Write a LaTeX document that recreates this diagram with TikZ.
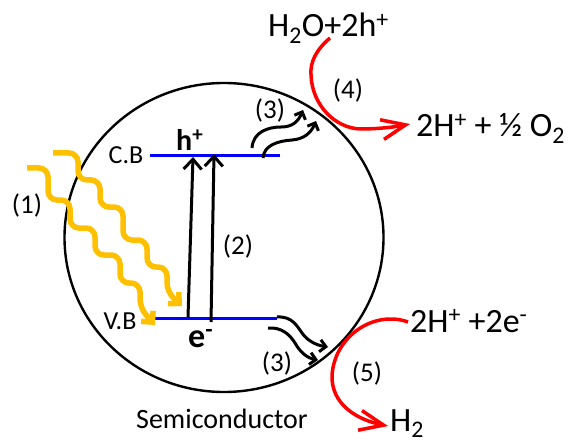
\documentclass[tikz,border=0pt]{standalone}
\usepackage{fontspec}
\setmainfont{Carlito}
\usetikzlibrary{arrows.meta}
\definecolor{photon}{RGB}{255,192,0}
\definecolor{bandblue}{RGB}{0,0,255}
\definecolor{rxred}{RGB}{255,0,0}
\begin{document}
\begin{tikzpicture}[x=1pt,y=-1pt,
  lbl/.style={font=\fontsize{27}{30}\selectfont, inner sep=0pt},
  small/.style={font=\fontsize{26}{30}\selectfont, inner sep=0pt},
  big/.style={font=\fontsize{34}{40}\selectfont, inner sep=0pt, anchor=base west},
  band/.style={draw=bandblue, line width=3pt},
  excite/.style={draw=black, line width=3pt, -{Straight Barb[length=10pt,width=18pt]}},
  transfer/.style={draw=black, line width=3pt, -{Straight Barb[length=6pt,width=12pt]}},
  photonline/.style={draw=photon, line width=5.5pt, rounded corners=9pt, -{Straight Barb[length=8pt,width=16pt]}},
  reaction/.style={draw=rxred, line width=3.5pt, -{Straight Barb[length=24pt,width=20pt]}},
]
\useasboundingbox (0,0) rectangle (577,446);

% semiconductor particle
\draw[line width=2.4pt] (224,237.5) ellipse [x radius=159.5, y radius=154.5];
\node[font=\fontsize{28}{32}\selectfont, anchor=base west, inner sep=0pt] (semi) at (136,428) {Semiconductor};

% bands
\coordinate (cbL) at (150,156); \coordinate (cbR) at (280,156);
\coordinate (vbL) at (155,318); \coordinate (vbR) at (277,318);
\draw[band] (cbL) -- (cbR);
\draw[band] (vbL) -- (vbR);
\node[small] (cb) at (126,155) {C.B};
\node[small] (vb) at (120,321) {V.B};
\node[font=\bfseries\fontsize{30}{34}\selectfont, anchor=base west, inner sep=0pt] (hp) at (176,151) {h\textsuperscript{+}};
\node[font=\bfseries\fontsize{34}{38}\selectfont, anchor=base west, inner sep=0pt] (em) at (188,347) {e\textsuperscript{-}};

% excitation arrows
\coordinate (a1s) at (188,317); \coordinate (a1e) at (193,157);
\coordinate (a2s) at (211,322); \coordinate (a2e) at (214,154);
\draw[excite] (a1s) -- (a1e);
\draw[excite] (a2s) -- (a2e);
\node[lbl] (l2) at (238,246) {(2)};

% photons
\coordinate (pa) at (27,168); \coordinate (pat) at (155,325);
\coordinate (pb) at (53,153); \coordinate (pbt) at (182,306);
\draw[photonline] (pa) -- (48,168) -- (48,200) -- (70,200) -- (70,228) -- (95,228) -- (95,255) -- (120,255) -- (120,283) -- (140,283) -- (140,308) -- (pat);
\draw[photonline] (pb) -- (78,153) -- (78,180) -- (100,180) -- (100,207) -- (123,207) -- (123,240) -- (147,240) -- (147,267) -- (167,267) -- (167,292) -- (pbt);
\node[lbl] (l1) at (27,205) {(1)};

% charge transfer (3)
\coordinate (u1s) at (252,148); \coordinate (u1e) at (303,110);
\coordinate (u2s) at (263,158); \coordinate (u2e) at (316,121);
\draw[transfer] (u1s) .. controls (253,132) and (268,127) .. (281,127) .. controls (292,127) and (298,122) .. (u1e);
\draw[transfer] (u2s) .. controls (264,145) and (278,141) .. (292,140) .. controls (304,139) and (311,133) .. (u2e);
\node[lbl] (l3a) at (270,110) {(3)};
\coordinate (d1s) at (277,317); \coordinate (d1e) at (328,347);
\coordinate (d2s) at (268,328); \coordinate (d2e) at (318,360);
\draw[transfer] (d1s) .. controls (292,316) and (297,326) .. (302,333) .. controls (307,340) and (315,345) .. (d1e);
\draw[transfer] (d2s) .. controls (282,327) and (290,335) .. (295,343) .. controls (300,352) and (307,358) .. (d2e);
\node[lbl] (l3b) at (277,363) {(3)};

% oxidation (4)
\node[big] (h2o) at (268,37) {H\textsubscript{2}O+2h\textsuperscript{+}};
\node[big] (o2) at (416,137) {2H\textsuperscript{+} + ½ O\textsubscript{2}};
\coordinate (r4s) at (330,38); \coordinate (r4e) at (410,124);
\draw[reaction] (r4s) .. controls (316,50) and (310,62) .. (311,75) .. controls (312,105) and (335,128) .. (360,129) .. controls (378,129) and (395,127) .. (r4e);
\node[lbl] (l4) at (348,90) {(4)};

% reduction (5)
\node[big] (hpe) at (410,332) {2H\textsuperscript{+} +2e\textsuperscript{-}};
\node[big] (h2) at (390,431) {H\textsubscript{2}};
\coordinate (r5s) at (408,322); \coordinate (r5e) at (388,426);
\draw[reaction] (r5s) .. controls (375,310) and (335,335) .. (332,375) .. controls (331,405) and (358,420) .. (r5e);
\node[lbl] (l5) at (367,373) {(5)};
\end{tikzpicture}
\end{document}
